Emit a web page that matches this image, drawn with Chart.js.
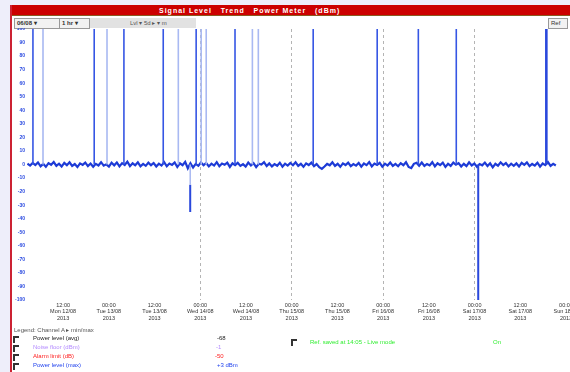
<!DOCTYPE html>
<html>
<head>
<meta charset="utf-8">
<script src="https://cdn.jsdelivr.net/npm/chart.js@4/dist/chart.umd.min.js"></script>
<style>
  body { margin: 0; width: 570px; height: 372px; background: #eeeefa; position: relative; overflow: hidden;
         font-family: "Liberation Sans", Arial, sans-serif; }
  .panel { position: absolute; left: 10px; top: 5px; width: 560px; height: 367px; background: #fff;
           border-left: 2px solid #cc2233; box-sizing: border-box; }
  .title { position: absolute; left: 0; top: 0; width: 558px; height: 11px; background: #cc0000;
           color: #fff; font: bold 7px "Liberation Sans", Arial; letter-spacing: 1px; line-height: 11px;
           padding-left: 147px; box-sizing: border-box; border-bottom: 1px solid #8a5a20; }
  .btn { position: absolute; top: 13px; height: 9px; border: 1px solid #999; background: #f2f2f2;
         font: bold 6px "Liberation Sans", Arial; color: #333; line-height: 9px; padding: 0 2px; box-sizing: content-box; }
  .bar { position: absolute; top: 13px; height: 10px; left: 78px; width: 106px; background: #e2e2e2;
         font: 6px "Liberation Sans", Arial; color: #555; line-height: 10px; padding-left: 40px; box-sizing: border-box; }
  canvas { position: absolute; left: 12px; top: 28px; }
  .lg { position: absolute; font: 6px "Liberation Sans", Arial; line-height: 7px; white-space: nowrap; }
  .box { position: absolute; width: 4px; height: 5px; border-top: 2px solid #333; border-left: 2px solid #333; }
</style>
</head>
<body>
<div class="panel">
  <div class="title">Signal Level &nbsp; Trend &nbsp; Power Meter &nbsp; (dBm)</div>
  <div class="btn" style="left:2px;width:40px">06/08 &#9662;</div>
  <div class="btn" style="left:47px;width:25px">1 hr &#9662;</div>
  <div class="bar">Lvl &#9662; 5d &#9656; &#9662; m</div>
  <div class="btn" style="left:536px;width:14px;font-weight:normal">Ref</div>
</div>
<canvas id="trend" width="558" height="300"></canvas>

<div class="lg" style="left:14px;top:327px;color:#555">Legend: Channel A &#9656; min/max</div>
<div class="box" style="left:13px;top:336px"></div>
<div class="box" style="left:13px;top:345px"></div>
<div class="box" style="left:13px;top:354px"></div>
<div class="box" style="left:13px;top:363px"></div>
<div class="lg" style="left:33px;top:335px;color:#222">Power level (avg)</div>
<div class="lg" style="left:33px;top:344px;color:#b48cff">Noise floor (dBm)</div>
<div class="lg" style="left:33px;top:353px;color:#ff2020">Alarm limit (dB)</div>
<div class="lg" style="left:33px;top:362px;color:#2244ee">Power level (max)</div>
<div class="lg" style="left:217px;top:335px;color:#222">-68</div>
<div class="lg" style="left:216px;top:344px;color:#b48cff">-1</div>
<div class="lg" style="left:215px;top:353px;color:#ff2020">-50</div>
<div class="lg" style="left:217px;top:362px;color:#2244ee">+3 dBm</div>
<div class="box" style="left:291px;top:339px"></div>
<div class="lg" style="left:310px;top:339px;color:#33ee33">Ref. saved at 14:05 - Live mode</div>
<div class="lg" style="left:493px;top:339px;color:#33ee33">On</div>

<script>
// x axis: one unit = 12 hours, tick 0 = Mon 12:00
const tickLabels = [
  ["12:00", "Mon 12/08", "2013"],
  ["00:00", "Tue 13/08", "2013"],
  ["12:00", "Tue 13/08", "2013"],
  ["00:00", "Wed 14/08", "2013"],
  ["12:00", "Wed 14/08", "2013"],
  ["00:00", "Thu 15/08", "2013"],
  ["12:00", "Thu 15/08", "2013"],
  ["00:00", "Fri 16/08", "2013"],
  ["12:00", "Fri 16/08", "2013"],
  ["00:00", "Sat 17/08", "2013"],
  ["12:00", "Sat 17/08", "2013"],
  ["00:00", "Sun 18/08", "2013"]
];
const markerTicks = [3, 5, 7, 9];

// sampled trace (dB around reference level)
const traceStart = -0.78;
const traceStep = 0.0575;
const traceValues = [
  0.6,-0.8,1.2,-0.4,1.5,-1.3,0.5,-1.7,1.0,-0.2,
  1.8,-1.0,0.6,-1.5,1.2,-0.5,1.6,-1.1,0.3,-1.9,
  0.8,-0.3,1.4,-1.2,0.7,-1.7,0.5,-0.7,1.7,-0.9,
  0.1,-1.6,1.3,-0.6,1.5,-1.4,1.0,-0.4,2.1,-1.2,
  0.9,-0.6,1.6,-1.3,0.4,-1.0,1.4,-0.5,1.1,-1.5,
  0.6,-0.8,1.7,-1.3,0.7,-0.3,1.5,-1.8,0.9,-0.5,
  1.9,-2.8,0.9,-2.2,0.4,-1.0,1.5,-0.5,1.1,-1.4,
  0.6,-0.8,1.7,-1.3,0.7,-0.2,1.4,-1.8,0.9,-0.5,
  1.2,-1.0,0.2,-1.6,1.4,-0.7,1.0,-1.9,0.5,-0.1,
  1.7,-1.2,0.8,-1.4,0.3,-0.9,1.3,-1.6,0.6,-0.8,
  1.1,-0.6,1.6,-1.0,0.5,-1.7,0.8,-0.4,1.4,-1.2,
  0.3,-2.0,-3.2,-1.5,0.4,-0.6,1.6,-1.0,0.5,-1.7,
  0.8,-0.4,1.4,-1.2,0.3,-0.8,1.2,-1.6,0.7,-0.5,
  1.8,-1.4,0.7,-0.3,1.2,-1.6,0.6,-0.8,1.5,-1.1,
  0.4,-1.3,1.0,-0.5,1.7,-1.8,-2.7,0.5,1.3,-0.9,
  1.5,-1.1,0.4,-0.7,1.7,-1.4,0.9,-0.5,1.3,-1.8,
  0.6,-1.0,1.4,-0.2,1.0,-1.5,0.5,-1.2,1.6,-0.7,
  0.7,-1.7,0.3,-0.6,1.4,-1.1,0.9,-2.1,0.5,-0.9,
  1.6,-0.4,1.1,-1.4,0.6,-1.0,0.8,-1.5,1.2,-0.3,
  1.5,-1.2,0.4,-0.8,1.3,-1.6,0.7,-0.5,1.8,-1.0,
  0.5,-0.7
];

// bursts
const spikeX = [-0.66, 0.68, 1.33, 2.19, 2.91, 3.76, 5.47, 6.87, 7.77, 8.60];
const spikeTop = [100, 100, 100, 100, 100, 100, 100, 100, 100, 100];
const bigSpikeX = [10.57];
const bigSpikeTop = [100];
const faintSpikeX = [-0.44, 0.96, 2.52, 3.02, 3.13, 4.14, 4.27];
const faintSpikeTop = [100, 100, 100, 100, 100, 100, 100];
const dipX = [2.78, 9.08];
const dipFrom = [-15, 0];
const dipLow = [-35, -100];
const dipGuideX = [2.78];
const dipGuideLow = [-15];

function segs(xs, from, to) {
  const out = [];
  xs.forEach((x, i) => {
    out.push({x: x, y: Array.isArray(from) ? from[i] : from});
    out.push({x: x, y: to[i]});
    out.push({x: x, y: null});
  });
  return out;
}

const ctx = document.getElementById('trend').getContext('2d');
new Chart(ctx, {
  type: 'line',
  data: {
    datasets: [
      {data: segs(faintSpikeX, 0, faintSpikeTop), borderColor: '#a9b9f2', borderWidth: 1.6},
      {data: segs(dipGuideX, 0, dipGuideLow), borderColor: '#a9b9f2', borderWidth: 1.5},
      {data: segs(spikeX, 0, spikeTop), borderColor: '#3656e4', borderWidth: 1.6},
      {data: segs(bigSpikeX, 0, bigSpikeTop), borderColor: '#2a48dc', borderWidth: 2.6},
      {data: segs(dipX, dipFrom, dipLow), borderColor: '#2a48dc', borderWidth: 2},
      {data: traceValues.map((v, i) => ({x: traceStart + i * traceStep, y: v})),
       borderColor: '#1d3bd6', borderWidth: 2.2}
    ]
  },
  options: {
    responsive: false,
    animation: false,
    devicePixelRatio: 1,
    spanGaps: false,
    elements: {point: {radius: 0}, line: {tension: 0}},
    layout: {padding: {top: 1, right: 4, left: 0, bottom: 0}},
    plugins: {legend: {display: false}, tooltip: {enabled: false}},
    scales: {
      x: {
        type: 'linear',
        min: -0.79,
        max: 11.0,
        afterBuildTicks: s => { s.ticks = tickLabels.map((t, i) => ({value: i})); },
        afterFit: s => { s.height = 28; s.paddingLeft = 0; s.paddingRight = 0; },
        ticks: {
          callback: v => tickLabels[Math.round(v)],
          font: {size: 5.5, family: 'Liberation Sans'},
          color: '#333',
          maxRotation: 0,
          autoSkip: false,
          padding: 2
        },
        grid: {
          color: c => (c.tick && markerTicks.includes(c.tick.value)) ? '#b4b4b4' : 'rgba(0,0,0,0)',
          lineWidth: 1,
          drawTicks: false
        },
        border: {display: false, dash: [3, 3]}
      },
      y: {
        min: -100,
        max: 100,
        afterFit: s => { s.width = 15; s.paddingTop = 0; s.paddingBottom = 0; },
        ticks: {stepSize: 10, font: {size: 5, family: 'Liberation Sans', weight: 'bold'}, color: '#2a4ae0', padding: 2},
        grid: {display: false, drawTicks: false},
        border: {display: false}
      }
    }
  }
});
</script>
</body>
</html>
